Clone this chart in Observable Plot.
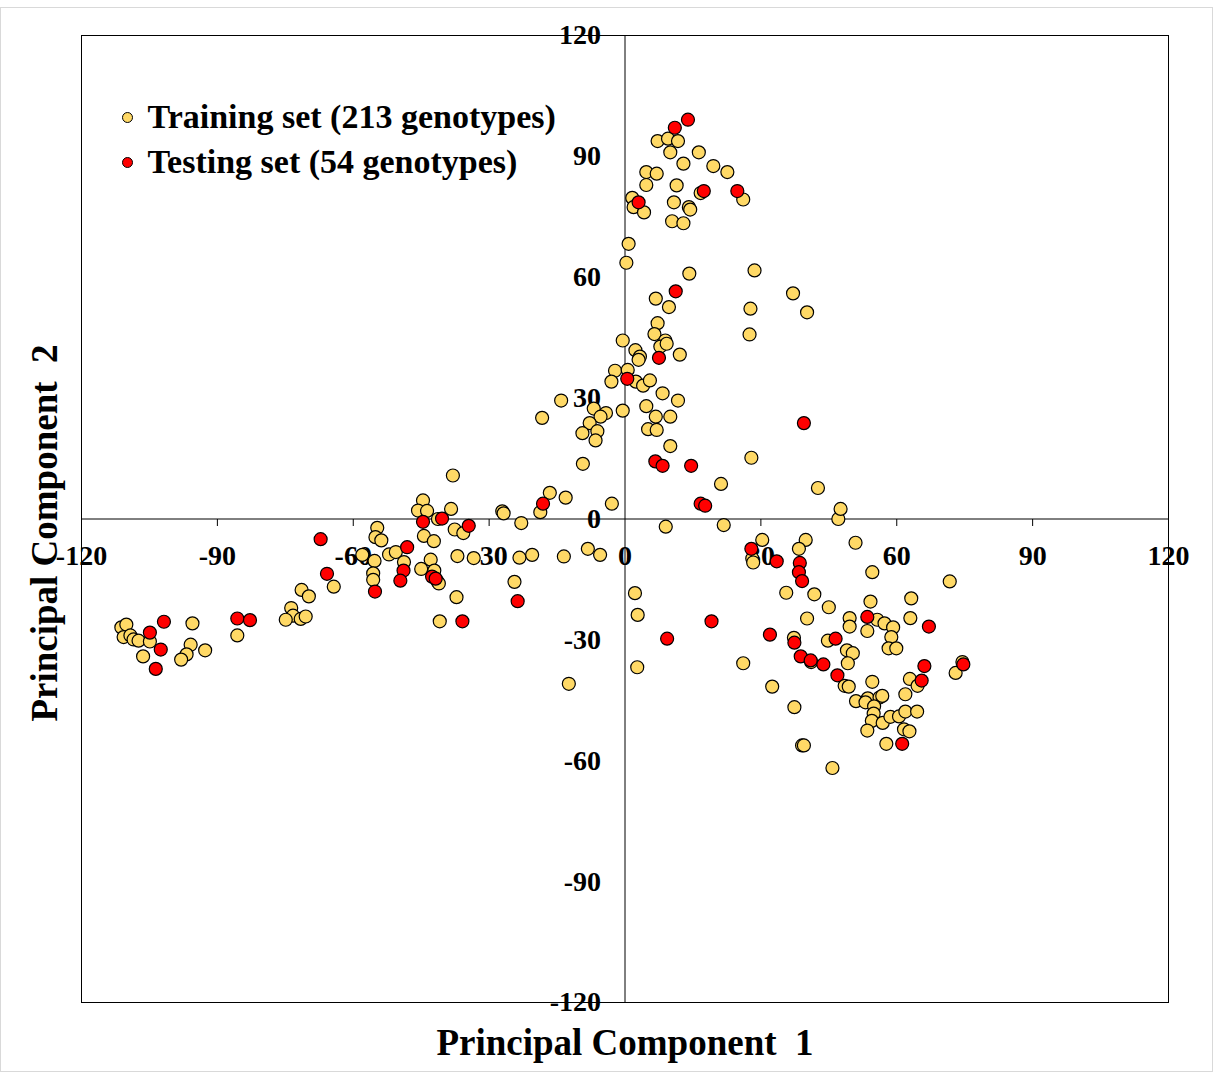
<!DOCTYPE html>
<html>
<head>
<meta charset="utf-8">
<script src="https://cdn.jsdelivr.net/npm/d3@7"></script>
<script src="https://cdn.jsdelivr.net/npm/@observablehq/plot@0.6"></script>
<style>
  html, body { margin: 0; padding: 0; background: #ffffff; }
  #wrap { position: relative; width: 1215px; height: 1073px; }
  #border { position: absolute; left: 0; top: 7px; width: 1211px; height: 1063px; border: 1px solid #d9d9d9; pointer-events: none; }
  #chart { position: absolute; left: 0; top: 0; }
</style>
</head>
<body>
<div id="wrap"><div id="chart"></div><div id="border"></div></div>
<script>
// ---- Data (Principal Component 1 / Principal Component 2) ----
const trainPC1 = [
  -111.2,-110.1,-110.7,-109.2,-108.5,-107.4,-104.9,-106.4,-95.5,-95.9,-96.8,-98.0,-92.7,-85.6,
  -71.4,-69.8,-73.7,-73.3,-74.9,-71.6,-70.5,-64.3,-58.0,
  -9.3,-38.0,-16.6,-13.1,-2.9,-44.6,-45.7,-43.7,-38.4,-27.1,-26.8,-18.7,-41.3,-22.9,-54.7,-37.6,
  -35.7,-55.1,-53.8,-44.4,-42.2,-52.1,-50.6,-48.8,-55.3,-55.6,-55.6,-42.9,-45.0,-42.1,-41.4,-41.1,
  -37.0,-33.4,-23.3,-20.5,-13.5,-8.2,-5.5,-24.4,-37.2,-40.9,2.2,2.8,-12.4,2.7,
  7.2,9.5,11.7,10.0,16.3,12.9,19.5,22.6,4.7,7.0,4.7,11.4,16.7,26.1,1.6,1.9,4.2,10.8,14.1,14.4,
  10.4,12.9,0.8,0.3,14.2,28.6,6.8,
  9.7,37.1,40.2,27.7,27.5,7.2,6.5,8.9,7.8,9.2,-0.5,2.3,3.3,3.0,12.1,-2.2,0.6,-3.0,2.4,4.0,5.5,
  8.3,11.7,4.7,-14.1,-6.9,-4.2,-5.4,-18.3,-0.5,6.8,10.0,-7.8,-6.1,-9.4,-6.5,5.1,7.0,10.0,27.9,
  21.2,42.6,9.0,21.8,47.1,47.6,30.3,39.9,28.1,28.3,38.4,35.6,41.8,40.2,26.1,32.5,37.3,
  50.9,54.6,71.7,45.0,54.2,63.2,49.6,49.6,53.5,55.7,57.3,59.2,58.8,58.2,59.9,63.0,44.8,49.0,
  50.3,49.2,41.1,48.5,49.4,54.6,51.0,53.6,53.1,56.2,56.8,55.0,54.9,54.5,53.5,56.9,58.6,60.5,
  61.9,64.5,61.9,62.9,64.6,61.6,62.8,57.7,37.4,39.1,39.5,45.8,73.0,74.5
];
const trainPC2 = [
  -26.9,-26.2,-29.3,-28.9,-29.9,-30.2,-30.4,-34.1,-25.9,-31.2,-33.6,-34.9,-32.6,-28.9,
  -17.6,-19.2,-22.1,-24.0,-25.0,-24.8,-24.2,-16.8,-8.9,
  13.7,10.8,6.5,5.3,3.8,4.6,2.1,2.0,2.5,1.9,1.4,1.7,0.0,-1.0,-2.2,-2.6,
  -3.5,-4.5,-5.3,-4.2,-5.5,-8.8,-8.2,-10.7,-10.4,-13.5,-15.1,-10.1,-12.4,-12.8,-15.5,-16.0,
  -9.2,-9.7,-9.6,-8.9,-9.3,-7.4,-8.9,-15.6,-19.4,-25.4,-18.4,-23.8,-40.9,-36.8,
  93.8,94.4,93.8,91.0,91.0,88.2,87.6,86.1,86.1,85.7,82.9,82.8,80.9,79.3,79.7,77.4,76.1,78.6,77.4,76.8,
  73.9,73.4,68.3,63.6,60.9,61.7,54.7,
  52.6,56.0,51.3,52.2,45.8,48.6,45.9,44.3,42.8,43.5,44.3,41.9,40.3,39.5,40.8,36.8,37.0,34.1,34.1,33.1,34.4,
  31.2,29.4,28.0,29.4,27.4,26.3,25.4,25.1,26.9,25.4,25.4,23.8,21.8,21.3,19.5,22.3,22.1,18.1,15.2,
  8.7,7.7,-1.9,-1.5,0.0,2.5,-5.2,-5.2,-9.8,-10.8,-7.4,-18.3,-18.7,-24.7,-35.8,-41.6,-29.5,
  -5.9,-13.2,-15.5,-21.9,-20.5,-19.7,-24.6,-26.7,-27.8,-25.0,-25.9,-26.9,-29.3,-32.1,-32.1,-24.6,-30.2,-32.6,
  -33.3,-35.8,-35.5,-41.4,-41.6,-40.4,-45.2,-44.5,-45.5,-44.3,-43.9,-46.5,-48.3,-50.1,-52.5,-50.6,-49.1,-49.0,
  -47.8,-47.8,-43.5,-39.7,-41.4,-52.2,-52.7,-55.8,-46.7,-56.2,-56.2,-61.8,-38.2,-35.5
];
const testPC1 = [
  -104.9,-101.8,-102.5,-103.6,-85.6,-82.8,-67.2,-65.8,-55.2,-44.6,-40.4,-34.5,-48.1,-48.9,-49.6,
  -42.6,-41.8,-23.7,-35.9,-18.1,13.9,11.0,17.4,24.8,3.0,11.2,7.5,0.5,39.5,6.7,8.3,14.6,16.7,17.7,
  27.9,33.5,38.6,38.4,39.1,19.1,9.3,32.0,37.4,38.8,41.0,43.8,46.5,46.9,53.5,67.1,66.1,65.5,61.2,74.7
];
const testPC2 = [
  -28.2,-25.5,-32.4,-37.2,-24.7,-25.1,-5.0,-13.6,-18.0,-0.7,0.1,-1.7,-7.0,-12.8,-15.3,
  -14.3,-14.8,-20.4,-25.4,3.8,99.1,97.1,81.4,81.4,78.6,56.5,40.0,34.8,23.8,14.3,13.2,13.2,3.8,3.3,
  -7.4,-10.5,-10.9,-13.2,-15.4,-25.4,-29.7,-28.7,-30.7,-34.1,-35.1,-36.1,-29.7,-38.8,-24.3,-26.7,-36.5,-40.1,-55.8,-36.1
];
const tickValues = [-120, -90, -60, -30, 0, 30, 60, 90, 120];
const seriesLabels = ["Training set (213 genotypes)", "Testing set (54 genotypes)"];
const seriesColors = ["#FFD966", "#FF0000"];
const xTitle = "Principal Component  1";
const yTitle = "Principal Component  2";

// ---- Build tables ----
const training = trainPC1.map((x, i) => ({pc1: x, pc2: trainPC2[i]}));
const testing = testPC1.map((x, i) => ({pc1: x, pc2: testPC2[i]}));
const xTickMarks = tickValues.filter(v => v !== 0 && Math.abs(v) !== 120);

const tickSymbol = { draw(ctx) { ctx.moveTo(0, 0); ctx.lineTo(0, 7); } };
const serif = "'Liberation Serif', 'Times New Roman', serif";

const chart = Plot.plot({
  width: 1215,
  height: 1073,
  marginLeft: 81,
  marginRight: 47,
  marginTop: 35,
  marginBottom: 71,
  x: {domain: [-120, 120], axis: null},
  y: {domain: [-120, 120], axis: null},
  style: {fontFamily: serif, background: "#ffffff", color: "#000"},
  marks: [
    Plot.frame({stroke: "#000", strokeWidth: 1}),
    Plot.ruleX([0], {stroke: "#000", strokeWidth: 1}),
    Plot.ruleY([0], {stroke: "#000", strokeWidth: 1}),
    Plot.dot(xTickMarks, {x: d => d, y: () => 0, symbol: tickSymbol, stroke: "#000", fill: "none", strokeWidth: 1}),
    // tick labels along the zero lines
    Plot.text(tickValues, {x: d => d, y: () => 0, text: d => String(d), dy: 37, fontSize: 28, fontWeight: "bold", fill: "#000"}),
    Plot.text(tickValues, {x: () => 0, y: d => d, text: d => String(d), dx: -24, textAnchor: "end", fontSize: 28, fontWeight: "bold", fill: "#000"}),
    // data
    Plot.dot(training, {x: "pc1", y: "pc2", r: 6.5, fill: seriesColors[0], stroke: "#000", strokeWidth: 1.2}),
    Plot.dot(testing, {x: "pc1", y: "pc2", r: 6.5, fill: seriesColors[1], stroke: "#000", strokeWidth: 1.2}),
    // legend
    Plot.dot([seriesLabels[0]], {frameAnchor: "top-left", dx: 46, dy: 82, r: 5, fill: seriesColors[0], stroke: "#000", strokeWidth: 1}),
    Plot.dot([seriesLabels[1]], {frameAnchor: "top-left", dx: 46, dy: 127, r: 5, fill: seriesColors[1], stroke: "#000", strokeWidth: 1}),
    Plot.text([seriesLabels[0]], {frameAnchor: "top-left", dx: 66, dy: 82, text: d => d, textAnchor: "start", lineAnchor: "middle", fontSize: 34, fontWeight: "bold", fill: "#000"}),
    Plot.text([seriesLabels[1]], {frameAnchor: "top-left", dx: 66, dy: 127, text: d => d, textAnchor: "start", lineAnchor: "middle", fontSize: 34, fontWeight: "bold", fill: "#000"}),
    // axis titles
    Plot.text([xTitle], {frameAnchor: "bottom", dy: 41, text: d => d, lineAnchor: "middle", fontSize: 37, fontWeight: "bold", fill: "#000"}),
    Plot.text([yTitle], {frameAnchor: "left", dx: -36, dy: 14, rotate: -90, text: d => d, textAnchor: "middle", lineAnchor: "middle", fontSize: 37, fontWeight: "bold", fill: "#000"})
  ]
});
document.getElementById("chart").appendChild(chart);
</script>
</body>
</html>
